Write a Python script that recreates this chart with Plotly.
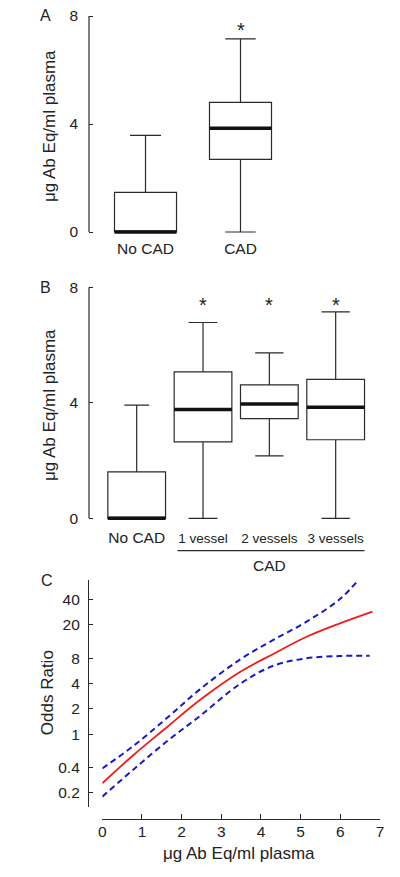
import plotly.graph_objects as go

# ---------------- data ----------------
cats_a = ["No CAD", "CAD"]
a_lower = [0.0, 0.0]
a_q1 = [0.0, 2.69]
a_median = [0.0, 3.84]
a_q3 = [1.47, 4.80]
a_upper = [3.58, 7.15]
a_sig = [False, True]

cats_b = ["No CAD", "1 vessel", "2 vessels", "3 vessels"]
b_lower = [0.0, 0.0, 2.16, 0.0]
b_q1 = [0.0, 2.65, 3.45, 2.72]
b_median = [0.0, 3.77, 3.96, 3.85]
b_q3 = [1.61, 5.07, 4.62, 4.81]
b_upper = [3.92, 6.78, 5.73, 7.15]
b_sig = [False, True, True, True]

fit_x = [0, 0.78, 1.62, 2.46, 3.47, 4.31, 5.15, 5.99, 6.81]
fit_or = [0.26, 0.56, 1.2, 2.55, 5.5, 9.0, 14.4, 20.8, 28.7]
upper_x = [0, 0.78, 1.62, 2.46, 3.47, 4.31, 5.15, 5.99, 6.45]
upper_or = [0.39, 0.72, 1.54, 3.41, 7.7, 13.2, 21.8, 40.5, 68]
lower_x = [0, 0.78, 1.62, 2.46, 3.47, 4.31, 5.15, 5.99, 6.74]
lower_or = [0.18, 0.377, 0.815, 1.64, 3.95, 6.5, 7.98, 8.5, 8.57]

c_yticks = [0.2, 0.4, 1, 2, 4, 8, 20, 40]
c_xticks = [0, 1, 2, 3, 4, 5, 6, 7]

# ---------------- style ----------------
W, H = 400, 877
FONT = "Liberation Sans, Arial, sans-serif"
INK = "#222222"
LINE = "#2a2a2a"
TICK_FS = 15.5
TITLE_FS = 17
YTITLE = "μg Ab Eq/ml plasma"


def pyp(py):
    return 1 - py / H


def pxp(px):
    return px / W


fig = go.Figure()


def add_boxes(cats, lo, q1, med, q3, up, sig, xa, ya, bw, ww, star_y):
    for i in range(len(cats)):
        fig.add_trace(go.Box(
            x=[i], lowerfence=[lo[i]], q1=[q1[i]], median=[med[i]], q3=[q3[i]],
            upperfence=[up[i]], width=bw, whiskerwidth=ww[i],
            fillcolor="white", line=dict(color=LINE, width=1.2),
            boxpoints=False, showlegend=False, hoverinfo="skip",
            xaxis=xa, yaxis=ya))
    mx, my = [], []
    for i in range(len(cats)):
        mx += [i - bw / 2, i + bw / 2, None]
        my += [med[i], med[i], None]
    fig.add_trace(go.Scatter(x=mx, y=my, mode="lines",
                             line=dict(color="#111111", width=3.5),
                             showlegend=False, hoverinfo="skip",
                             xaxis=xa, yaxis=ya))
    for i in range(len(cats)):
        if sig[i]:
            fig.add_annotation(x=i, y=star_y, xref=xa, yref=ya, text="*",
                               showarrow=False, yshift=-3,
                               xanchor="center", yanchor="middle",
                               font=dict(family=FONT, size=20, color=INK))


# Panel A
add_boxes(cats_a, a_lower, a_q1, a_median, a_q3, a_upper, a_sig, "x", "y",
          0.653, [0.5, 0.49], 7.6)
# Panel B
add_boxes(cats_b, b_lower, b_q1, b_median, b_q3, b_upper, b_sig, "x2", "y2",
          0.87, [0.43, 0.5, 0.49, 0.49], 7.5)

# Panel C
fig.add_trace(go.Scatter(x=upper_x, y=upper_or, mode="lines", line_shape="spline",
                         line=dict(color="#1818c8", width=2, dash="6px,4px"),
                         showlegend=False, xaxis="x3", yaxis="y3"))
fig.add_trace(go.Scatter(x=lower_x, y=lower_or, mode="lines", line_shape="spline",
                         line=dict(color="#1818c8", width=2, dash="6px,4px"),
                         showlegend=False, xaxis="x3", yaxis="y3"))
fig.add_trace(go.Scatter(x=fit_x, y=fit_or, mode="lines", line_shape="spline",
                         line=dict(color="#ee1c1c", width=1.8),
                         showlegend=False, xaxis="x3", yaxis="y3"))

tickfont = dict(family=FONT, size=TICK_FS, color=INK)

# layout axes
fig.update_layout(
    width=W, height=H, margin=dict(l=0, r=0, t=0, b=0, pad=0, autoexpand=False),
    paper_bgcolor="white", plot_bgcolor="white",
    font=dict(family=FONT, color=INK),
    # A
    xaxis=dict(domain=[pxp(89), pxp(390)], range=[-0.595, 2.574],
               tickvals=list(range(len(cats_a))), ticktext=cats_a,
               showline=False, showgrid=False, zeroline=False, ticks="",
               tickfont=tickfont, anchor="y", ticklabelstandoff=0, automargin=False),
    yaxis=dict(domain=[pyp(237.4), pyp(13.3)], range=[-0.2, 8.1],
               tickvals=[0, 4, 8], showline=False, showgrid=False, zeroline=False,
               ticks="inside", ticklen=4, tickcolor=LINE, tickwidth=1.2,
               tickfont=tickfont, anchor="x", ticklabelstandoff=10, automargin=False),
    # B
    xaxis2=dict(domain=[pxp(89), pxp(390)], range=[-0.719, 3.819],
                tickvals=list(range(len(cats_b))),
                ticktext=[cats_b[0]] + ["<span style='font-size:13.5px'>%s</span>" % c for c in cats_b[1:]],
                showline=False, showgrid=False, zeroline=False, ticks="",
                tickfont=tickfont, anchor="y2", ticklabelstandoff=2, automargin=False),
    yaxis2=dict(domain=[pyp(524.1), pyp(284.4)], range=[-0.2, 8.1],
                tickvals=[0, 4, 8], showline=False, showgrid=False, zeroline=False,
                ticks="inside", ticklen=4, tickcolor=LINE, tickwidth=1.2,
                tickfont=tickfont, anchor="x2", ticklabelstandoff=10, automargin=False),
    # C
    xaxis3=dict(domain=[pxp(102.3), pxp(380)], range=[0, 7],
                tickvals=c_xticks, showline=True, linecolor=LINE, linewidth=1.2,
                showgrid=False, zeroline=False, ticks="inside", ticklen=5,
                tickcolor=LINE, tickwidth=1.2, tickfont=tickfont,
                anchor="free", position=pyp(819.3), ticklabelstandoff=-2, automargin=False),
    yaxis3=dict(domain=[pyp(806.7), pyp(580)], type="log", range=[-0.8643, 1.8345],
                tickvals=c_yticks, ticktext=[str(v) for v in c_yticks],
                showline=True, linecolor=LINE, linewidth=1.2,
                showgrid=False, zeroline=False, ticks="inside", ticklen=4,
                tickcolor=LINE, tickwidth=1.2, tickfont=tickfont,
                anchor="free", position=pxp(88), ticklabelstandoff=5, automargin=False),
)

# y axis lines for A and B (0..8 only)
for xr, yr in (("x", "y"), ("x2", "y2")):
    fig.add_shape(type="line", xref=xr + " domain", yref=yr, x0=0, x1=0, y0=0, y1=8,
                  line=dict(color=LINE, width=1.2))

# CAD bracket in B
bw_b = 0.87
fig.add_shape(type="line", xref="x2", yref="paper",
              x0=1 - bw_b / 2 + 0.05, x1=len(cats_b) - 1 + bw_b / 2,
              y0=pyp(550.7), y1=pyp(550.7), line=dict(color=LINE, width=1.2))
fig.add_annotation(x=2, y=pyp(565), xref="x2", yref="paper", text="CAD",
                   showarrow=False, xanchor="center", yanchor="middle",
                   font=dict(family=FONT, size=15.5, color=INK))

# axis titles
for yc, txt, xc in ((126, YTITLE, 50), (405, YTITLE, 50), (692.5, "Odds Ratio", 47.7)):
    fig.add_annotation(x=pxp(xc), y=pyp(yc), xref="paper", yref="paper", text=txt,
                       textangle=-90, showarrow=False, xanchor="center", yanchor="middle",
                       font=dict(family=FONT, size=TITLE_FS, color=INK))
fig.add_annotation(x=pxp(239.2), y=pyp(853.3), xref="paper", yref="paper", text=YTITLE,
                   showarrow=False, xanchor="center", yanchor="middle",
                   font=dict(family=FONT, size=TITLE_FS, color=INK))

# panel letters
for letter, (lx, ly) in zip(["A", "B", "C"], [(45, 16), (45, 287.3), (46.7, 580.7)]):
    fig.add_annotation(x=pxp(lx), y=pyp(ly), xref="paper", yref="paper", text=letter,
                       showarrow=False, xanchor="center", yanchor="middle",
                       font=dict(family=FONT, size=16, color=INK))

fig.write_html("out.html", config={"displayModeBar": False},
               post_script="document.body.style.margin='0';")
